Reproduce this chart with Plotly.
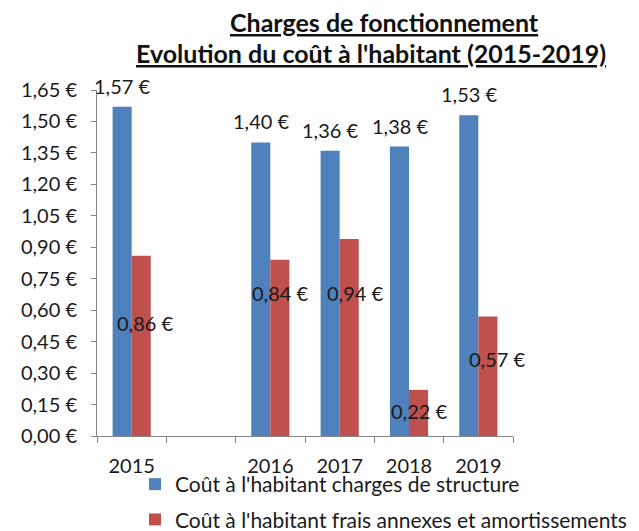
import plotly.graph_objects as go

# ---- data ----
categories = ["2015", "", "2016", "2017", "2018", "2019"]
structure = [1.57, None, 1.40, 1.36, 1.38, 1.53]
annexes = [0.86, None, 0.84, 0.94, 0.22, 0.57]
y_ticks = [0.00, 0.15, 0.30, 0.45, 0.60, 0.75, 0.90, 1.05, 1.20, 1.35, 1.50, 1.65]
name_structure = "Coût à l'habitant charges de structure"
name_annexes = "Coût à l'habitant frais annexes et amortissements"
title_lines = ["Charges de fonctionnement", "Evolution du coût à l'habitant (2015-2019)"]

# ---- styles ----
BLUE = "#4F81BD"
RED = "#C0504D"
FONT = "Lato"
TXT = "#1a1a1a"
BAR_PX = 19  # approximate bar width in pixels for label offsets
# pixel nudges of the red labels (as placed in the original)
red_label_dy = [-67, None, -33, -54, -21, -43]
red_label_dx = [4, None, 0, 6, 0, 9]

# page has an 8px body margin; the figure is laid out in page pixels minus it
OFF = 8
W, H = 639 - OFF, 531 - OFF
PL, PT, PR, PB = 97, 90, 513, 436      # plot area in page pixels
PW, PH = PR - PL, PB - PT

fmt = lambda v: f"{v:.2f}".replace(".", ",") + " €"
xpos = list(range(len(categories)))

fig = go.Figure()
fig.add_trace(go.Bar(x=xpos, y=structure, name=name_structure,
                     marker=dict(color=BLUE, line=dict(width=0)),
                     legendgroup="a"))
fig.add_trace(go.Bar(x=xpos, y=annexes, name=name_annexes,
                     marker=dict(color=RED, line=dict(width=0)),
                     legendgroup="b"))

for xi, v in zip(xpos, structure):
    if v is None:
        continue
    fig.add_annotation(x=xi, y=v, text=fmt(v), showarrow=False,
                       xshift=-BAR_PX / 2, yshift=21, yanchor="middle",
                       font=dict(family=FONT, size=20, color=TXT))
for xi, v, dy, dx in zip(xpos, annexes, red_label_dy, red_label_dx):
    if v is None:
        continue
    fig.add_annotation(x=xi, y=v, text=fmt(v), showarrow=False,
                       xshift=BAR_PX / 2 + dx, yshift=dy, yanchor="middle",
                       font=dict(family=FONT, size=20, color=TXT))

# title lines (underlined, bold)
for line, ycen, xcen in zip(title_lines, [22, 53], [384, 371]):
    fig.add_annotation(xref="paper", yref="paper",
                       x=(xcen - PL) / PW, y=1 + (PT - ycen) / PH,
                       text=line, showarrow=False, xanchor="center", yanchor="middle",
                       font=dict(family=FONT, size=25, color="#111", weight="bold",
                                 lineposition="under"))

fig.update_layout(
    width=W, height=H,
    margin=dict(l=PL - OFF, r=639 - PR, t=PT - OFF, b=531 - PB, autoexpand=False),
    paper_bgcolor="white", plot_bgcolor="white",
    barmode="group", bargap=0.45, bargroupgap=0,
    font=dict(family=FONT, size=20, color=TXT),
    showlegend=True,
    legend=dict(orientation="v", x=(135 - PL) / PW, xanchor="left",
                y=(PB - 464) / PH, yanchor="top",
                font=dict(family=FONT, size=21, color=TXT),
                tracegroupgap=5, bgcolor="rgba(0,0,0,0)",
                itemclick=False),
)
fig.update_xaxes(range=[-0.5, len(categories) - 0.5],
                 tickvals=xpos, ticktext=categories, ticks="",
                 showline=True, linecolor="#868686", linewidth=1,
                 showgrid=False, zeroline=False, automargin=False,
                 ticklabelstandoff=12,
                 minor=dict(tick0=-0.5, dtick=1, ticks="outside", ticklen=6,
                            tickcolor="#868686", showgrid=False),
                 tickfont=dict(family=FONT, size=20, color=TXT))
fig.update_yaxes(range=[0, 1.65], tickvals=y_ticks,
                 ticktext=[fmt(t) for t in y_ticks],
                 showline=True, linecolor="#868686", linewidth=1,
                 ticks="outside", ticklen=5, tickcolor="#868686",
                 showgrid=False, zeroline=False, automargin=False,
                 ticklabelstandoff=10,
                 tickfont=dict(family=FONT, size=20, color=TXT))

fig.write_html("out.html")
